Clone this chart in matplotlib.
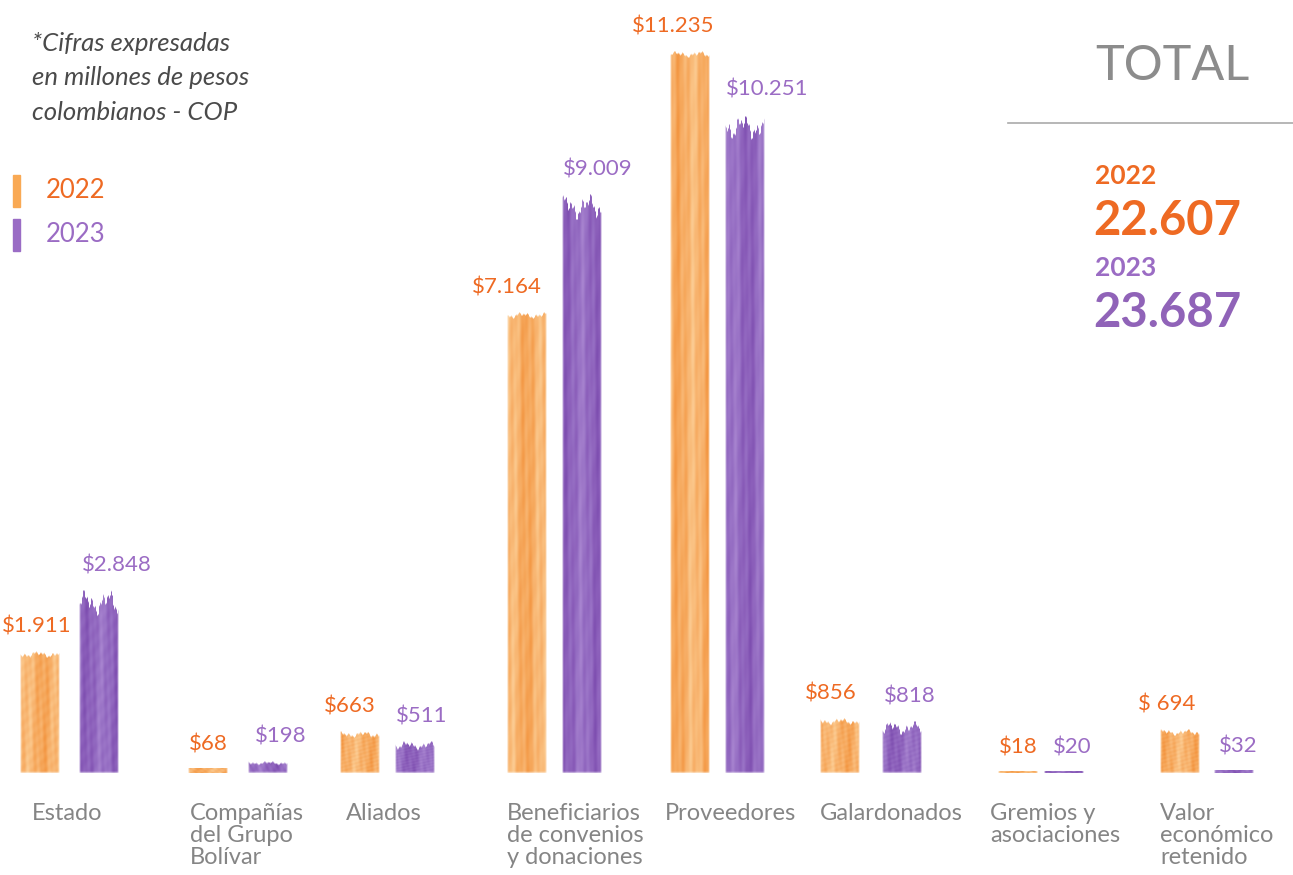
import numpy as np
import matplotlib
matplotlib.use("Agg")
import matplotlib.pyplot as plt
from matplotlib.colors import to_rgb

# datos (millones de COP)
categorias = ["Estado", "Compañías\ndel Grupo\nBolívar", "Aliados",
              "Beneficiarios\nde convenios\ny donaciones", "Proveedores",
              "Galardonados", "Gremios y\nasociaciones", "Valor\neconómico\nretenido"]
valores_2022 = [1911, 68, 663, 7164, 11235, 856, 18, 694]
valores_2023 = [2848, 198, 511, 9009, 10251, 818, 20, 32]
etiquetas_2022 = ["$1.911", "$68", "$663", "$7.164", "$11.235", "$856", "$18", "$ 694"]
etiquetas_2023 = ["$2.848", "$198", "$511", "$9.009", "$10.251", "$818", "$20", "$32"]
anios = ["2022", "2023"]
totales = ["22.607", "23.687"]

# layout (pixeles de la figura)
W, H = 1293, 875
base_px = 773
escala = (base_px - 50) / 11235.0
x_2022 = [40, 208, 360, 527, 690, 840, 1018, 1180]
x_2023 = [99, 268, 415, 582, 745, 902, 1064, 1234]
x_cat = [32, 190, 346, 507, 665, 820, 990, 1160]
dx_22 = [-3, 0, -10, -20, -17, -9, 0, -13]
dx_23 = [18, 13, 7, 16, 22, 8, 8, 4]
ancho = 40

NAR_TXT = "#EE6A23"
MOR_TXT = "#9B6CC4"
GRIS = "#858585"
NAR_OSC, NAR_CLA = "#F3923A", "#FCCB90"
MOR_OSC, MOR_CLA = "#7A48AE", "#A581CF"

plt.rcParams['font.family'] = ['Lato', 'DejaVu Sans']


def fy(y_px):
    return 1 - y_px / H


def textura(h_px, w_px, oscuro, claro, fase, irregular):
    h_px = max(2, int(round(h_px)))
    x = np.linspace(0, 1, w_px)[None, :]
    y = np.linspace(0, 1, h_px)[:, None]
    t = (0.5 + 0.22 * np.sin(2 * np.pi * (1.3 * x + fase))
         + 0.14 * np.sin(2 * np.pi * (3.7 * x + 0.5 * y + 2 * fase))
         + 0.08 * np.sin(2 * np.pi * (7.3 * x - 1.1 * y + fase))
         + 0.06 * np.sin(2 * np.pi * (11 * y + 3 * x)))
    t = np.clip(t, 0, 1)
    c0 = np.array(to_rgb(oscuro))
    c1 = np.array(to_rgb(claro))
    img = np.zeros((h_px, w_px, 4))
    img[..., :3] = c0 * (1 - t[..., None]) + c1 * t[..., None]
    filas = np.arange(h_px)[:, None]
    bx = np.minimum(x, 1 - x) * w_px
    alfa = np.clip(bx / 2.0 + 0.3, 0, 1) * np.ones((h_px, 1))
    if h_px > 12:
        # borde superior irregular y base suave solo en barras altas
        amp = min(irregular, 0.25 * h_px)
        onda = (0.45 * np.sin(2 * np.pi * (1.7 * x + fase))
                + 0.30 * np.sin(2 * np.pi * (4.3 * x + 2.1 * fase + 0.2))
                + 0.25 * np.sin(2 * np.pi * (9.7 * x + 0.7)))
        rag = amp * np.clip(0.5 + 0.6 * onda, 0, 1)
        alfa = alfa * np.clip((filas - rag) / 2.0, 0, 1)
        alfa = alfa * np.clip((h_px - filas) / 3.0 + 0.2, 0, 1)
    img[..., 3] = alfa * 0.97
    return img


fig = plt.figure(figsize=(W / 100, H / 100), dpi=100)
ax = fig.add_axes([0, 0, 1, 1])
ax.axis('off')

barras_22 = ax.bar(x_2022, valores_2022, width=ancho, color='none', edgecolor='none')
barras_23 = ax.bar(x_2023, valores_2023, width=ancho, color='none', edgecolor='none')

for i, (r22, r23) in enumerate(zip(barras_22, barras_23)):
    for rect, osc, cla, irr, f0 in ((r22, NAR_OSC, NAR_CLA, 6, 0.0),
                                    (r23, MOR_OSC, MOR_CLA, 25, 0.5)):
        x0, w, h = rect.get_x(), rect.get_width(), rect.get_height()
        img = textura(h * escala, int(w), osc, cla, 0.37 * i + f0, irr)
        ax.imshow(img, extent=(x0, x0 + w, 0, h), aspect='auto',
                  interpolation='bilinear', zorder=2)

for rect, txt, dx in zip(barras_22, etiquetas_2022, dx_22):
    ax.annotate(txt, (rect.get_x() + rect.get_width() / 2, rect.get_height()),
                xytext=(dx, 24), textcoords='offset pixels', ha='center', va='center',
                fontsize=16, color=NAR_TXT)
for rect, txt, dx in zip(barras_23, etiquetas_2023, dx_23):
    ax.annotate(txt, (rect.get_x() + rect.get_width() / 2, rect.get_height()),
                xytext=(dx, 24), textcoords='offset pixels', ha='center', va='center',
                fontsize=16, color=MOR_TXT)

ax.set_xlim(0, W)
ax.set_ylim(-(H - base_px) / escala, base_px / escala)

for xc, cat in zip(x_cat, categorias):
    fig.text(xc / W, fy(803), cat, ha='left', va='top', fontsize=17,
             color=GRIS, linespacing=1.05)

# nota
fig.text(32 / W, fy(32), "*Cifras expresadas\nen millones de pesos\ncolombianos - COP",
         ha='left', va='top', fontsize=18.5, style='italic', color='#4A4A4A',
         linespacing=1.6)

# leyenda
for anio, col_barra, col_txt, yc in ((anios[0], "#F9A954", NAR_TXT, 191),
                                     (anios[1], "#9A6CC5", MOR_TXT, 235)):
    fig.patches.append(plt.Rectangle((13 / W, fy(yc + 16)), 7 / W, 32 / H,
                                     transform=fig.transFigure, color=col_barra))
    fig.text(46 / W, fy(yc), anio, ha='left', va='center', fontsize=18.5, color=col_txt)

# panel total
fig.text(1095 / W, fy(66), "TOTAL", ha='left', va='center', fontsize=35,
         color='#8C8C8C')
fig.add_artist(plt.Line2D([1008 / W, 1293 / W], [fy(123), fy(123)],
                          transform=fig.transFigure, color='#AAAAAA', lw=1.2))
fig.text(1095 / W, fy(176), anios[0], ha='left', va='center', fontsize=19,
         color=NAR_TXT, fontweight='bold')
fig.text(1093 / W, fy(221), totales[0], ha='left', va='center', fontsize=34,
         color=NAR_TXT, fontweight='bold')
fig.text(1095 / W, fy(268), anios[1], ha='left', va='center', fontsize=19,
         color=MOR_TXT, fontweight='bold')
fig.text(1093 / W, fy(313), totales[1], ha='left', va='center', fontsize=34,
         color='#9063B8', fontweight='bold')

fig.savefig("out.png", dpi=100, facecolor='white')
